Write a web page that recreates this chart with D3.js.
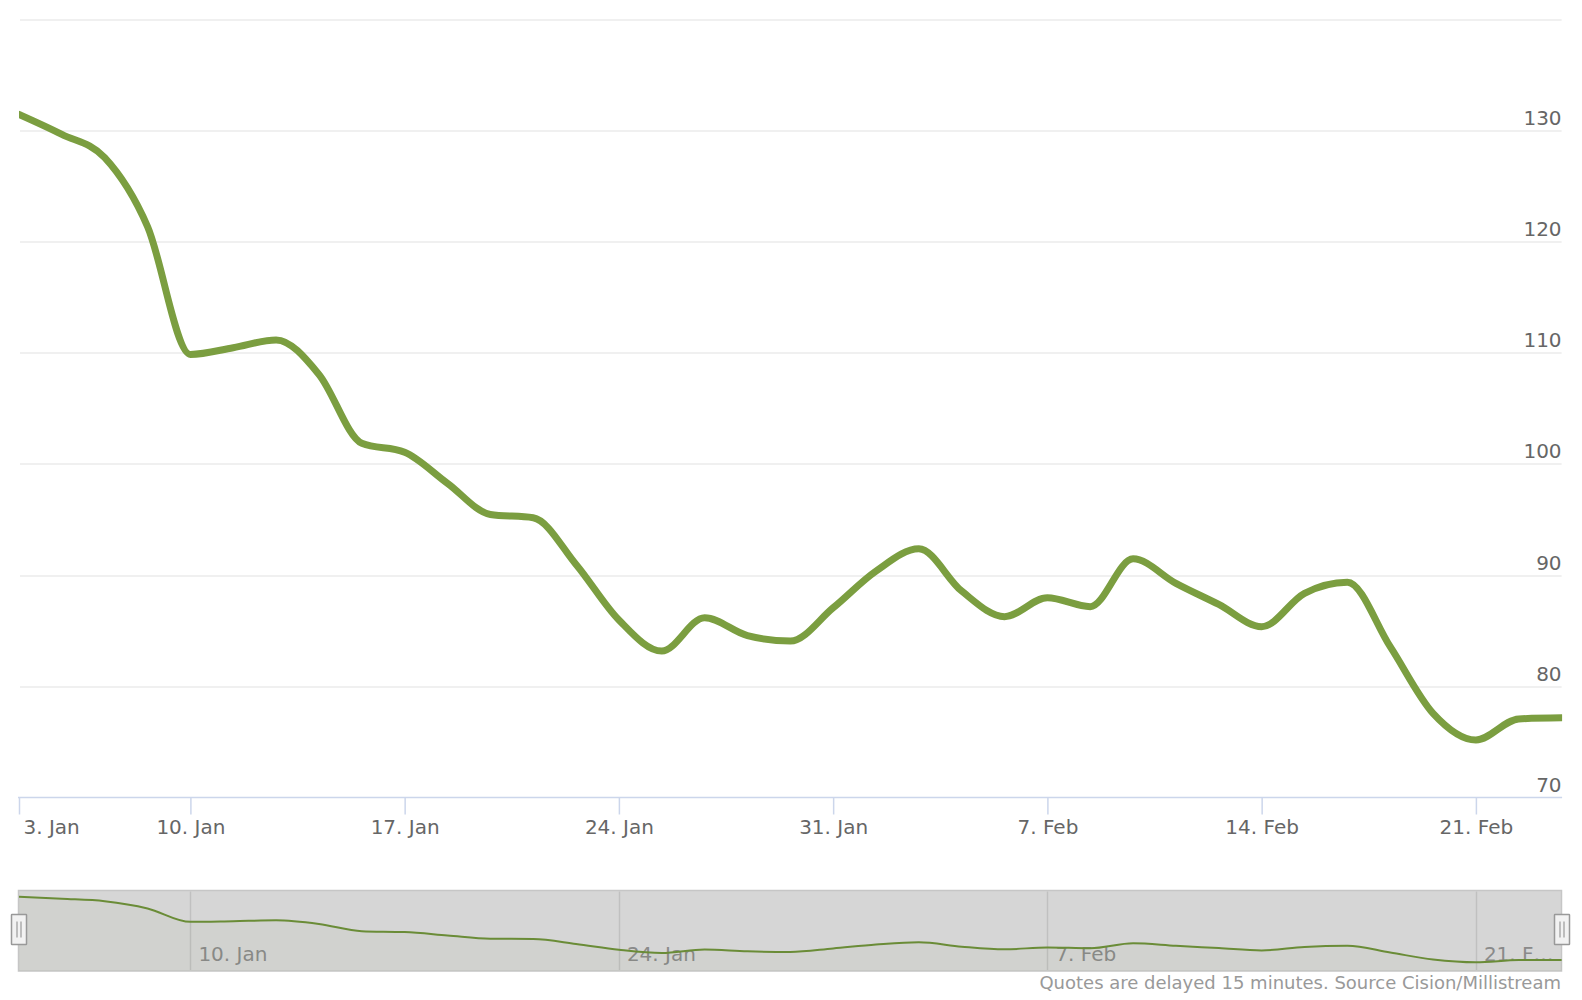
<!DOCTYPE html>
<html>
<head>
<meta charset="utf-8">
<script src="https://cdn.jsdelivr.net/npm/d3@7"></script>
<style>
  html, body { margin: 0; padding: 0; background: #fff; }
  svg { display: block; font-family: "DejaVu Sans", Verdana, sans-serif; }
</style>
</head>
<body>
<svg id="chart" width="1582" height="1000"></svg>
<script>
// ---- data ----
const dates = [
  "2022-01-03","2022-01-04","2022-01-05","2022-01-07",
  "2022-01-10","2022-01-11","2022-01-12","2022-01-13","2022-01-14",
  "2022-01-17","2022-01-18","2022-01-19","2022-01-20","2022-01-21",
  "2022-01-24","2022-01-25","2022-01-26","2022-01-27","2022-01-28",
  "2022-01-31","2022-02-01","2022-02-02","2022-02-03","2022-02-04",
  "2022-02-07","2022-02-08","2022-02-09","2022-02-10","2022-02-11",
  "2022-02-14","2022-02-15","2022-02-16","2022-02-17","2022-02-18",
  "2022-02-21","2022-02-22","2022-02-23"
];
const closes = [
  131.5, 129.7, 127.6, 121.4,
  109.9, 110.5, 111.2, 108.1, 101.9,
  101.1, 98.3, 95.5, 95.2, 91.0,
  86.0, 83.2, 86.2, 84.6, 84.1,
  87.1, 90.4, 92.4, 88.6, 86.3,
  88.0, 87.2, 91.5, 89.3, 87.4,
  85.4, 88.4, 89.4, 83.6, 77.6,
  75.2, 77.1, 77.2
];
const xTickDates  = ["2022-01-03","2022-01-10","2022-01-17","2022-01-24","2022-01-31","2022-02-07","2022-02-14","2022-02-21"];
const xTickLabels = ["3. Jan","10. Jan","17. Jan","24. Jan","31. Jan","7. Feb","14. Feb","21. Feb"];
const yTicks      = [70, 80, 90, 100, 110, 120, 130, 140];
const yTickLabels = ["70","80","90","100","110","120","130",""];
const navTickDates  = ["2022-01-10","2022-01-24","2022-02-07","2022-02-21"];
const navTickLabels = ["10. Jan","24. Jan","7. Feb","21. F\u2026"];
const creditText = "Quotes are delayed 15 minutes. Source Cision/Millistream";

// ---- layout ----
const plot = { left: 19, right: 1561.6, top: 19.9, bottom: 797.8 };
const nav  = { left: 18.5, right: 1561.5, top: 890.5, bottom: 971, lineTop: 896.7, lineBottom: 962.3 };
const lineColor = "#7b9e40";
const navLineColor = "#6a8c37";

const svg = d3.select("#chart");
const data = dates.map((d, i) => ({ d, v: closes[i] }));

const x = d3.scalePoint().domain(dates).range([plot.left, plot.right]).padding(0);
const y = d3.scaleLinear().domain([70, 140]).range([plot.bottom, plot.top]);

// gridlines
const grid = svg.append("g");
grid.selectAll("line").data(yTicks.slice(1)).join("line")
  .attr("x1", plot.left + 1).attr("x2", plot.right)
  .attr("y1", d => Math.round(y(d))).attr("y2", d => Math.round(y(d)))
  .attr("stroke", "#e2e2e2").attr("stroke-width", 1.2);

// y labels
svg.append("g").selectAll("text").data(yTicks).join("text")
  .attr("x", plot.right).attr("y", d => y(d) - 6)
  .attr("text-anchor", "end")
  .attr("font-size", 20).attr("fill", "#666666")
  .text((d, i) => yTickLabels[i]);

// x axis
const xAxis = d3.axisBottom(x).tickValues(xTickDates).tickSize(17)
  .tickFormat(d => xTickLabels[xTickDates.indexOf(d)]);
const gx = svg.append("g").attr("transform", `translate(0,${Math.round(plot.bottom) - 0.5})`).call(xAxis);
gx.select(".domain").attr("stroke", "#ccd6eb").attr("stroke-width", 1.5)
  .attr("d", `M${plot.left - 1},0H${plot.right + 0.5}`);
gx.selectAll(".tick line").attr("stroke", "#ccd6eb").attr("stroke-width", 1.5);
gx.selectAll(".tick text")
  .attr("font-size", 20).attr("fill", "#666666")
  .attr("font-family", "DejaVu Sans, Verdana, sans-serif")
  .attr("dy", null).attr("y", 36.5);
gx.selectAll(".tick").filter(d => d === xTickDates[0]).select("text")
  .attr("text-anchor", "start").attr("x", 4);

// main line
svg.append("clipPath").attr("id", "plotclip").append("rect")
  .attr("x", plot.left).attr("y", 0).attr("width", plot.right - plot.left + 0.5).attr("height", plot.bottom + 5);
const line = d3.line().x(p => x(p.d)).y(p => y(p.v)).curve(d3.curveMonotoneX);
svg.append("path").datum(data)
  .attr("clip-path", "url(#plotclip)")
  .attr("d", line)
  .attr("fill", "none").attr("stroke", lineColor)
  .attr("stroke-width", 7).attr("stroke-linejoin", "round").attr("stroke-linecap", "round");

// ---- navigator ----
const ny = d3.scaleLinear().domain(d3.extent(closes)).range([nav.lineBottom, nav.lineTop]);
const navG = svg.append("g");
navG.append("rect")
  .attr("x", nav.left).attr("y", nav.top)
  .attr("width", nav.right - nav.left).attr("height", nav.bottom - nav.top)
  .attr("fill", "#d6d6d6").attr("stroke", "#c6c6c6").attr("stroke-width", 1.5);
navG.selectAll("line.ng").data(navTickDates).join("line").attr("class", "ng")
  .attr("x1", d => Math.round(x(d)) + 0.5).attr("x2", d => Math.round(x(d)) + 0.5)
  .attr("y1", nav.top + 1).attr("y2", nav.bottom - 1)
  .attr("stroke", "#c0c0c0").attr("stroke-width", 1.5);
navG.append("clipPath").attr("id", "navclip").append("rect")
  .attr("x", nav.left).attr("y", nav.top).attr("width", nav.right - nav.left).attr("height", nav.bottom - nav.top);
navG.append("g").attr("clip-path", "url(#navclip)")
  .selectAll("text").data(navTickDates).join("text")
  .attr("x", d => x(d) + 8).attr("y", 960.5)
  .attr("font-size", 20).attr("fill", "#8a8a8a")
  .text((d, i) => navTickLabels[i]);
const navArea = d3.area().x(p => x(p.d)).y0(nav.bottom).y1(p => ny(p.v)).curve(d3.curveMonotoneX);
navG.append("path").datum(data).attr("d", navArea).attr("fill", navLineColor).attr("fill-opacity", 0.04);
const navLine = d3.line().x(p => x(p.d)).y(p => ny(p.v)).curve(d3.curveMonotoneX);
navG.append("path").datum(data).attr("d", navLine)
  .attr("fill", "none").attr("stroke", navLineColor).attr("stroke-width", 2);

// handles
[nav.left, nav.right].forEach(hx => {
  const h = navG.append("g").attr("transform", `translate(${Math.round(hx)},929.5)`);
  h.append("rect").attr("x", -7.5).attr("y", -15).attr("width", 15).attr("height", 30)
    .attr("fill", "#f2f2f2").attr("stroke", "#999999").attr("stroke-width", 1.5).attr("rx", 0.5);
  h.append("line").attr("x1", -2).attr("x2", -2).attr("y1", -8).attr("y2", 8).attr("stroke", "#999999").attr("stroke-width", 1.2);
  h.append("line").attr("x1", 2).attr("x2", 2).attr("y1", -8).attr("y2", 8).attr("stroke", "#999999").attr("stroke-width", 1.2);
});

// credits
svg.append("text").attr("x", 1561).attr("y", 989)
  .attr("text-anchor", "end").attr("font-size", 18).attr("fill", "#999999")
  .text(creditText);
</script>
</body>
</html>
